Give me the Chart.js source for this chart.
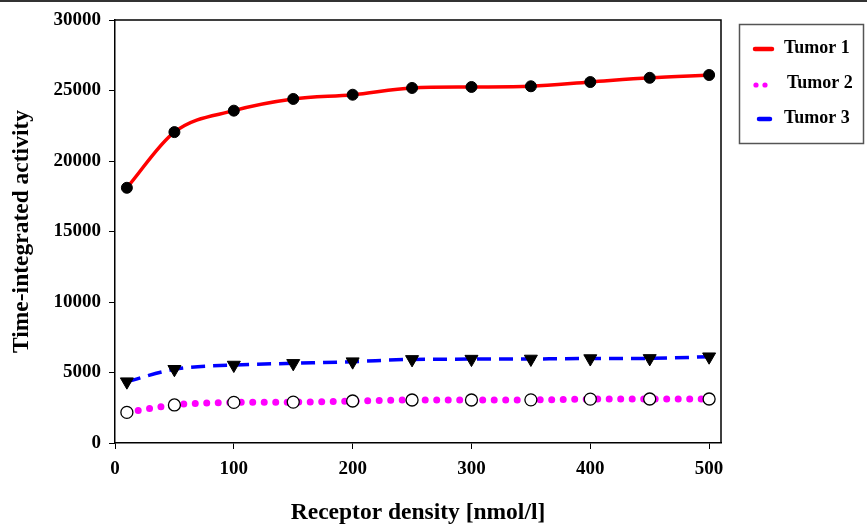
<!DOCTYPE html>
<html>
<head>
<meta charset="utf-8">
<script src="https://cdn.jsdelivr.net/npm/chart.js@4"></script>
<style>
  html, body { margin: 0; padding: 0; background: #fff; }
  #wrap { width: 867px; height: 524px; position: relative; }
</style>
</head>
<body>
<div id="wrap"><canvas id="c" width="867" height="524"></canvas></div>
<script>
const receptorDensity = [10, 50, 100, 150, 200, 250, 300, 350, 400, 450, 500];
const tumor1 = [18100, 22050, 23570, 24400, 24700, 25180, 25250, 25300, 25600, 25900, 26100];
const tumor2 = [2170, 2700, 2880, 2900, 2980, 3050, 3050, 3060, 3110, 3120, 3120];
const tumor3 = [4350, 5230, 5530, 5650, 5770, 5930, 5950, 5960, 5990, 6000, 6120];
const xTicks = [0, 100, 200, 300, 400, 500];
const yTicks = [0, 5000, 10000, 15000, 20000, 25000, 30000];
const seriesNames = ['Tumor 1', 'Tumor 2', 'Tumor 3'];
const xTitle = 'Receptor density [nmol/l]';
const yTitle = 'Time-integrated activity';

const FONT = "'Liberation Serif', 'Times New Roman', serif";

function pts(arr) { return receptorDensity.map((x, i) => ({ x: x, y: arr[i] })); }

const framePlugin = {
  id: 'frame',
  afterDraw(chart) {
    const ctx = chart.ctx;
    const a = chart.chartArea;
    ctx.save();
    ctx.strokeStyle = '#000';
    ctx.lineWidth = 1.5;
    ctx.beginPath();
    ctx.moveTo(a.left, a.top);
    ctx.lineTo(a.right, a.top);
    ctx.lineTo(a.right, a.bottom);
    ctx.stroke();
    ctx.strokeStyle = '#333';
    ctx.lineWidth = 2;
    ctx.beginPath();
    ctx.moveTo(0, 1);
    ctx.lineTo(867, 1);
    ctx.stroke();
    // legend
    ctx.strokeStyle = '#555';
    ctx.lineWidth = 1.5;
    ctx.strokeRect(739.5, 24.5, 124, 119);
    ctx.font = "bold 18px " + FONT;
    ctx.fillStyle = '#000';
    ctx.textBaseline = 'middle';
    ctx.textAlign = 'left';
    ctx.strokeStyle = '#ff0000';
    ctx.lineWidth = 4.5;
    ctx.lineCap = 'round';
    ctx.beginPath(); ctx.moveTo(755, 49); ctx.lineTo(772, 49); ctx.stroke();
    ctx.fillText(seriesNames[0], 784, 48);
    ctx.fillStyle = '#ff00ff';
    ctx.beginPath(); ctx.arc(756, 85, 2.6, 0, Math.PI * 2); ctx.fill();
    ctx.beginPath(); ctx.arc(765, 85, 2.6, 0, Math.PI * 2); ctx.fill();
    ctx.fillStyle = '#000';
    ctx.fillText(seriesNames[1], 787, 83);
    ctx.strokeStyle = '#0000ff';
    ctx.beginPath(); ctx.moveTo(759, 119); ctx.lineTo(770, 119); ctx.stroke();
    ctx.fillText(seriesNames[2], 784, 118);
    ctx.restore();
  }
};

new Chart(document.getElementById('c'), {
  type: 'line',
  data: {
    datasets: [
      {
        label: seriesNames[0],
        data: pts(tumor1),
        borderColor: '#ff0000',
        borderWidth: 3.5,
        cubicInterpolationMode: 'monotone',
        pointStyle: 'circle',
        pointRadius: 5.5,
        pointBackgroundColor: '#000',
        pointBorderColor: '#000',
        pointBorderWidth: 1,
        order: 1
      },
      {
        label: seriesNames[1],
        data: pts(tumor2),
        borderColor: '#ff00ff',
        borderWidth: 7,
        borderDash: [0, 11.5],
        borderCapStyle: 'round',
        cubicInterpolationMode: 'monotone',
        pointStyle: 'circle',
        pointRadius: 6,
        pointBackgroundColor: '#fff',
        pointBorderColor: '#000',
        pointBorderWidth: 1.3,
        order: 3
      },
      {
        label: seriesNames[2],
        data: pts(tumor3),
        borderColor: '#0000ff',
        borderWidth: 3.5,
        borderDash: [14, 8],
        cubicInterpolationMode: 'monotone',
        pointStyle: 'triangle',
        rotation: 180,
        pointRadius: 7.5,
        pointBackgroundColor: '#000',
        pointBorderColor: '#000',
        pointBorderWidth: 1,
        order: 2
      }
    ]
  },
  options: {
    responsive: false,
    animation: false,
    events: [],
    layout: { padding: { top: 20, right: 146, left: 0, bottom: 0 } },
    plugins: { legend: { display: false }, tooltip: { enabled: false } },
    scales: {
      x: {
        type: 'linear',
        min: 0,
        max: 510,
        afterFit(s) { s.height = 81; },
        afterBuildTicks(s) { s.ticks = xTicks.map(v => ({ value: v })); },
        ticks: {
          color: '#000',
          padding: 9,
          maxRotation: 0,
          autoSkip: false,
          callback: v => String(v),
          font: { family: FONT, size: 19, weight: 'bold' }
        },
        grid: { drawOnChartArea: false, drawTicks: true, tickLength: 6, color: '#000', lineWidth: 1 },
        border: { display: true, color: '#000', width: 1.5 },
        title: {
          display: true,
          text: xTitle,
          color: '#000',
          padding: { top: 0, bottom: -3 },
          font: { family: FONT, size: 23.5, weight: 'bold' }
        }
      },
      y: {
        min: 0,
        max: 30000,
        afterFit(s) { s.width = 115; },
        afterBuildTicks(s) { s.ticks = yTicks.map(v => ({ value: v })); },
        ticks: {
          color: '#000',
          padding: 8,
          autoSkip: false,
          callback: v => String(v),
          font: { family: FONT, size: 19, weight: 'bold' }
        },
        grid: { drawOnChartArea: false, drawTicks: true, tickLength: 6, color: '#000', lineWidth: 1 },
        border: { display: true, color: '#000', width: 1.5 },
        title: {
          display: true,
          text: yTitle,
          color: '#000',
          padding: { top: 8, bottom: 0 },
          font: { family: FONT, size: 23.5, weight: 'bold' }
        }
      }
    }
  },
  plugins: [framePlugin]
});
</script>
</body>
</html>
